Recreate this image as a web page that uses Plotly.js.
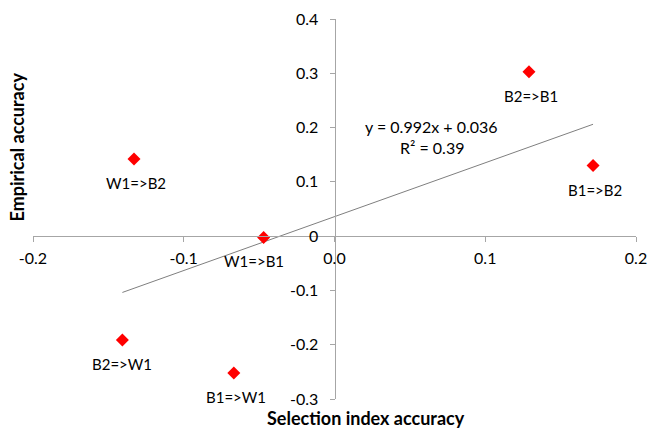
<!DOCTYPE html>
<html>
<head>
<meta charset="utf-8">
<script src="https://cdn.plot.ly/plotly-3.0.1.min.js"></script>
<style>html,body{margin:0;padding:0;background:#fff}#chart{width:649px;height:428px}</style>
</head>
<body>
<div id="chart"></div>
<script>
const labels = ["W1=>B2", "B2=>B1", "B1=>B2", "W1=>B1", "B2=>W1", "B1=>W1"];
const selIndexAcc = [-0.133, 0.129, 0.1715, -0.047, -0.1407, -0.0668];
const empiricalAcc = [0.142, 0.303, 0.130, -0.0024, -0.1915, -0.252];
const xTicks = [-0.2, -0.1, 0.0, 0.1, 0.2];
const xTickText = ["-0.2", "-0.1", "0.0", "0.1", "0.2"];
const yTicks = [-0.3, -0.2, -0.1, 0, 0.1, 0.2, 0.3, 0.4];
const yTickText = ["-0.3", "-0.2", "-0.1", "0", "0.1", "0.2", "0.3", "0.4"];
const equationLines = ["y = 0.992x + 0.036", "R² = 0.39"];

// least-squares trendline from the data
const n = selIndexAcc.length;
const mx = selIndexAcc.reduce((a, b) => a + b, 0) / n;
const my = empiricalAcc.reduce((a, b) => a + b, 0) / n;
let sxy = 0, sxx = 0;
for (let i = 0; i < n; i++) {
  sxy += (selIndexAcc[i] - mx) * (empiricalAcc[i] - my);
  sxx += (selIndexAcc[i] - mx) ** 2;
}
const slope = sxy / sxx, intercept = my - slope * mx;
const xmin = Math.min(...selIndexAcc), xmax = Math.max(...selIndexAcc);
const trendX = [xmin, xmax];
const trendY = trendX.map(v => slope * v + intercept);

const FONT = "Lato, 'Open Sans', sans-serif";

const traces = [
  {x: trendX, y: trendY, mode: "lines", line: {color: "#7f7f7f", width: 1}, hoverinfo: "skip", showlegend: false},
  {x: selIndexAcc, y: empiricalAcc, mode: "markers", marker: {symbol: "diamond", size: 10, color: "#ff0000"}, showlegend: false}
];

const annotations = labels.map((t, i) => ({
  x: selIndexAcc[i], y: empiricalAcc[i], xref: "x", yref: "y", text: t, showarrow: false,
  xanchor: "center", yanchor: "middle",
  yshift: -24, xshift: (i === 3 ? -10 : (i === 4 ? 0 : 2)), font: {family: FONT, size: 15, color: "#000"}
}));
annotations.push({
  x: 0.0646, y: 0.2026, xref: "x", yref: "y", text: equationLines[0], showarrow: false,
  xanchor: "center", yanchor: "middle", font: {family: FONT, size: 16, color: "#000"}
});
annotations.push({
  x: 0.0646, y: 0.1634, xref: "x", yref: "y", text: equationLines[1], showarrow: false,
  xanchor: "center", yanchor: "middle", font: {family: FONT, size: 16, color: "#000"}
});
annotations.push({
  x: 0.5522, y: -0.0495, xref: "paper", yref: "paper", text: "<b>Selection index accuracy</b>", showarrow: false,
  xanchor: "center", yanchor: "middle", font: {family: FONT, size: 18, color: "#000"}
});
annotations.push({
  x: -0.0249, y: 0.6645, xref: "paper", yref: "paper", text: "<b>Empirical accuracy</b>", showarrow: false, textangle: -90,
  xanchor: "center", yanchor: "middle", font: {family: FONT, size: 18, color: "#000"}
});

const layout = {
  width: 649, height: 428,
  margin: {l: 33, r: 13, t: 19, b: 29},
  paper_bgcolor: "#fff", plot_bgcolor: "#fff",
  showlegend: false,
  xaxis: {
    range: [-0.2, 0.2], anchor: "free", position: 0.3 / 0.7,
    tickvals: xTicks, ticktext: xTickText, showgrid: false, zeroline: false,
    showline: true, linecolor: "#a6a6a6", linewidth: 1,
    ticks: "outside", ticklen: 5, tickcolor: "#a6a6a6", ticklabelstandoff: 3,
    tickfont: {family: FONT, size: 16, color: "#000"}
  },
  yaxis: {
    range: [-0.3, 0.4], anchor: "free", position: 0.5,
    tickvals: yTicks, ticktext: yTickText, showgrid: false, zeroline: false,
    showline: true, linecolor: "#a6a6a6", linewidth: 1,
    ticks: "outside", ticklen: 5, tickcolor: "#a6a6a6", ticklabelstandoff: 8,
    tickfont: {family: FONT, size: 16, color: "#000"}
  },
  annotations: annotations
};

Plotly.newPlot("chart", traces, layout, {displayModeBar: false, staticPlot: true});
</script>
</body>
</html>
